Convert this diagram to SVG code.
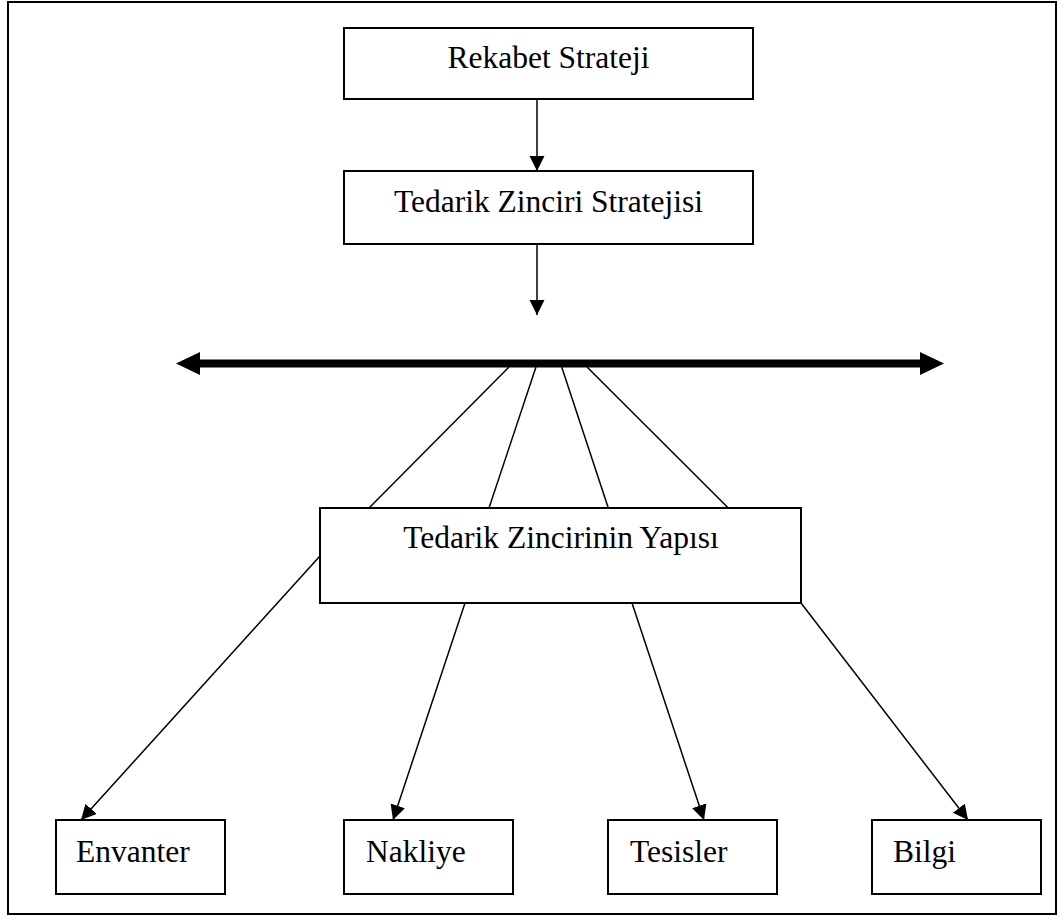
<svg xmlns="http://www.w3.org/2000/svg" width="1058" height="916" viewBox="0 0 1058 916">
  <style>
    .box { fill: #ffffff; stroke: #000000; stroke-width: 2; }
    .frame { fill: none; stroke: #000000; stroke-width: 2; }
    .lbl { font-size: 31.5px; fill: #000000; }
    .mid { text-anchor: middle; }
    .link { stroke: #000000; stroke-width: 1.5; fill: none; }
    .arrow { marker-end: url(#head); }
    .axis { stroke: #000000; stroke-width: 8; fill: none; marker-start: url(#bigHead); marker-end: url(#bigHead); }
  </style>
  <defs>
    <marker id="head" markerUnits="userSpaceOnUse" markerWidth="16" markerHeight="16" refX="15" refY="7.5" orient="auto">
      <path d="M0,0 L15,7.5 L0,15 Z" fill="#000000"/>
    </marker>
    <marker id="bigHead" markerUnits="userSpaceOnUse" markerWidth="26" markerHeight="24" refX="0" refY="11.5" orient="auto-start-reverse">
      <path d="M0,0 L24,11.5 L0,23 Z" fill="#000000"/>
    </marker>
  </defs>

  <rect class="frame" x="8" y="2" width="1048" height="912"/>

  <!-- connectors -->
  <g id="connectors">
    <line class="link arrow" x1="537" y1="99" x2="537" y2="171"/>
    <line class="link arrow" x1="537" y1="244" x2="537" y2="315"/>
    <line class="axis" x1="200" y1="363.5" x2="920" y2="363.5"/>
    <line class="link" x1="509" y1="367" x2="369" y2="508"/>
    <line class="link" x1="536" y1="367" x2="489" y2="508"/>
    <line class="link" x1="561.7" y1="367" x2="608.3" y2="508"/>
    <line class="link" x1="587" y1="367" x2="728.3" y2="508"/>
    <line class="link arrow" x1="320" y1="556" x2="81" y2="820"/>
    <line class="link arrow" x1="465" y1="603" x2="393" y2="820"/>
    <line class="link arrow" x1="632" y1="603" x2="704" y2="820"/>
    <line class="link arrow" x1="801" y1="603" x2="968" y2="820"/>
  </g>

  <g font-family="Liberation Serif, Tinos, DejaVu Serif, serif">
    <g id="rekabet-strateji">
      <rect class="box" x="344" y="28" width="409" height="71"/>
      <text class="lbl mid" x="548.5" y="68">Rekabet Strateji</text>
    </g>
    <g id="tedarik-zinciri-stratejisi">
      <rect class="box" x="344" y="171" width="409" height="73"/>
      <text class="lbl mid" x="548.5" y="212">Tedarik Zinciri Stratejisi</text>
    </g>
    <g id="tedarik-zincirinin-yapisi">
      <rect class="box" x="320" y="508" width="481" height="95"/>
      <text class="lbl mid" x="561" y="548">Tedarik Zincirinin Yapısı</text>
    </g>
    <g id="envanter">
      <rect class="box" x="56" y="820" width="169" height="74"/>
      <text class="lbl" x="76" y="862">Envanter</text>
    </g>
    <g id="nakliye">
      <rect class="box" x="344" y="820" width="169" height="74"/>
      <text class="lbl" x="366" y="862">Nakliye</text>
    </g>
    <g id="tesisler">
      <rect class="box" x="608" y="820" width="169" height="74"/>
      <text class="lbl" x="630" y="862">Tesisler</text>
    </g>
    <g id="bilgi">
      <rect class="box" x="872" y="820" width="169" height="74"/>
      <text class="lbl" x="893" y="862">Bilgi</text>
    </g>
  </g>
</svg>
